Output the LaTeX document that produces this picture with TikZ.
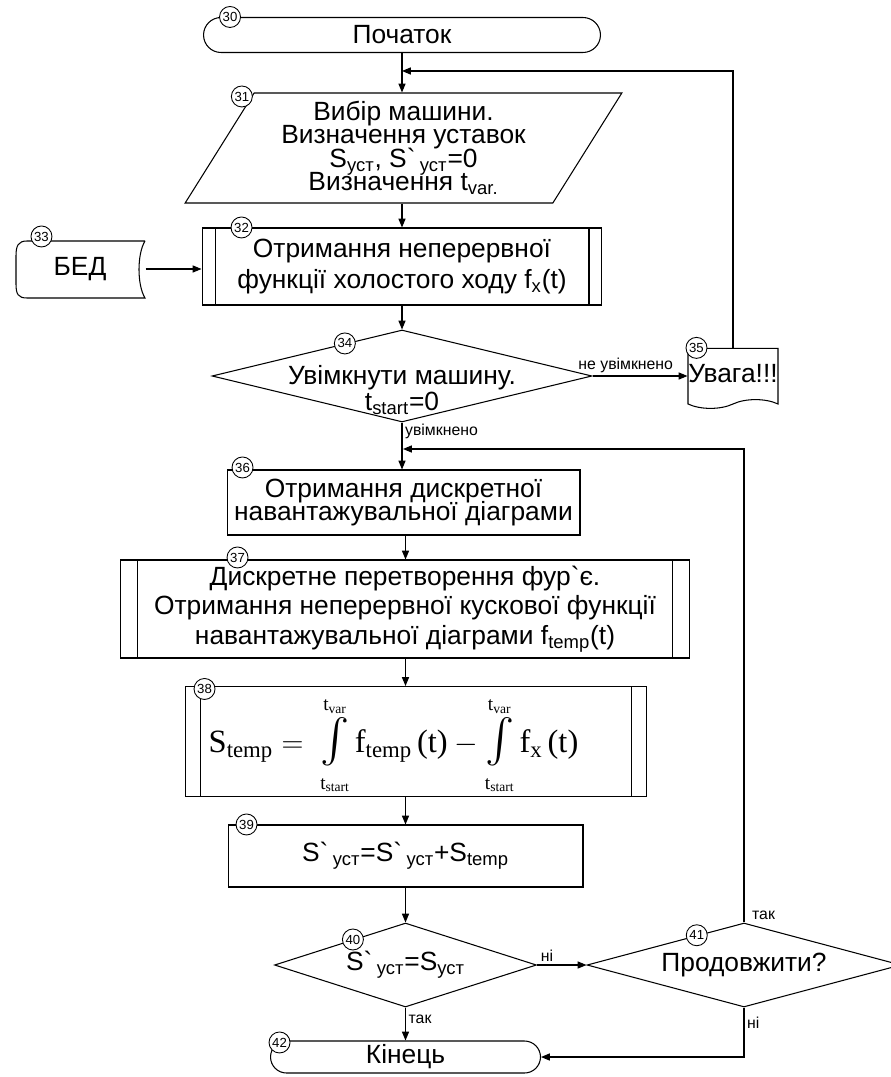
\documentclass[tikz,border=0pt]{standalone}
\usepackage{amsmath}
\usepackage{fontspec}
\setmainfont{Liberation Sans}
\newfontfamily\eqfont{Liberation Serif}
\usetikzlibrary{arrows.meta,positioning,calc,shapes.geometric,shapes.misc,shapes.symbols}
\newcommand{\tightlines}{\setlength{\lineskiplimit}{-5pt}\setlength{\lineskip}{0pt}}
\newcommand{\eqlim}[2]{\raisebox{#2}[\height][\depth]{\eqfont\fontsize{11}{11}\selectfont t\textsubscript{#1}}}
\newcommand{\eqint}{\mathop{\mbox{\fontsize{24}{24}\selectfont$\int$}}\limits}

\begin{document}
\begin{tikzpicture}[x=0.02cm,y=-0.02cm,line width=0.6pt,
  font=\fontsize{15}{16}\selectfont,
  arr/.style={-{Triangle[length=5pt,width=4pt]}},
  term/.style={draw,rounded rectangle,minimum height=0.7cm,inner sep=0pt},
  proc/.style={draw,rectangle,inner sep=0pt,align=center},
  subproc/.style={proc,path picture={
    \draw ([xshift=#1]path picture bounding box.north west) -- ([xshift=#1]path picture bounding box.south west);
    \draw ([xshift=-#1]path picture bounding box.north east) -- ([xshift=-#1]path picture bounding box.south east);}},
  cond/.style={draw,diamond,inner sep=0pt},
  num/.style={draw,circle,fill=white,line width=0.5pt,inner sep=0pt,minimum size=0.42cm,font=\fontsize{7.5}{7.5}\selectfont},
  lbl/.style={font=\fontsize{9}{9}\selectfont,inner sep=1.5pt}]
\useasboundingbox (0,0) rectangle (890,1077);

\node[term,minimum width=7.94cm] (t30) at (402,35) {Початок};
\node[draw,trapezium,trapezium left angle=59,trapezium right angle=121,trapezium stretches=true,
  minimum width=8.74cm,minimum height=2.2cm,inner sep=0pt,align=center,
  font=\fontsize{15}{13.4}\selectfont\tightlines] (p31) at (403.5,148)
  {Вибір машини.\\Визначення уставок\\S\textsubscript{уст}, S\textasciigrave\,\textsubscript{уст}=0\\Визначення t\textsubscript{var.}};
\node[subproc=0.26cm,minimum width=8cm,minimum height=1.54cm,font=\fontsize{15}{18}\selectfont] (b32) at (402,266.5)
  {Отримання неперервної\\функції холостого ходу f\textsubscript{x}(t)};
\node[minimum width=2.6cm,minimum height=1.16cm,inner sep=0pt] (bed) at (80,269) {БЕД};
\draw (145,241) -- (27,241) .. controls (18,241) and (16,246) .. (16,256) -- (16,284)
  .. controls (16,294) and (18,298) .. (27,298) -- (145,298) .. controls (137,285) and (137,254) .. (145,241);
\node[cond,minimum width=7.6cm,minimum height=1.84cm] (d34) at (402,376)
  {\makebox[0pt]{\raisebox{-12.4pt}[0pt][0pt]{\fontsize{15}{14.7}\selectfont\begin{tabular}{@{}c@{}}Увімкнути машину.\\t\textsubscript{start}=0\end{tabular}}}};
\node[draw,tape,tape bend top=none,minimum width=1.8cm,minimum height=1.2cm,inner sep=0pt] (u35) at (733,374) {Увага!!!};
\node[proc,minimum width=7.06cm,minimum height=1.3cm,font=\fontsize{15}{13}\selectfont\tightlines] (b36) at (403.5,502.5)
  {Отримання дискретної\\навантажувальної діаграми};
\node[subproc=0.34cm,minimum width=11.4cm,minimum height=1.96cm,font=\fontsize{15}{17}\selectfont] (b37) at (405,609)
  {Дискретне перетворення фур\textasciigrave є.\\Отримання неперервної кускової функції\\навантажувальної діаграми f\textsubscript{temp}(t)};
\node[subproc=0.3cm,minimum width=9.24cm,minimum height=2.2cm] (b38) at (416,741.5)
  {\eqfont\fontsize{18.5}{22}\selectfont
   \raisebox{-1.2pt}[\height][\depth]{$\text{S}_{\text{temp}} = \;\eqint_{\eqlim{start}{-2.8pt}}^{\eqlim{var}{-3.5pt}}\text{f}_{\text{temp}}\,\text{(t)}
   - \eqint_{\eqlim{start}{-2.8pt}}^{\eqlim{var}{-3.5pt}}\text{f}_{\text{x}}\,\text{(t)}$}\hspace{0.9cm}};
\node[proc,minimum width=7.1cm,minimum height=1.24cm] (b39) at (405.5,856)
  {S\textasciigrave\,\textsubscript{уст}=S\textasciigrave\,\textsubscript{уст}+S\textsubscript{temp}};
\node[cond,minimum width=5.24cm,minimum height=1.68cm] (d40) at (405.5,965)
  {\makebox[0pt]{S\textasciigrave\,\textsubscript{уст}=S\textsubscript{уст}}};
\node[cond,minimum width=6.28cm,minimum height=1.68cm] (d41) at (744,965) {\makebox[0pt]{Продовжити?}};
\node[term,minimum width=5.4cm,minimum height=0.64cm] (t42) at (405.5,1057) {Кінець};

\coordinate (j1) at (402,71);
\coordinate (j2) at (403,449);

\draw[arr] (t30.south) -- (t30.south |- p31.north);
\draw[arr] (u35.north) |- (j1);
\draw[arr] (t30.south |- p31.south) -- (b32.north);
\draw[arr] (bed.east) -- (bed.east -| b32.west);
\draw[arr] (b32.south) -- (d34.north);
\draw[arr] (d34.east) -- node[lbl,above,pos=0.35]{не увімкнено} (d34.east -| u35.west);
\draw[arr] (d34.south) -- node[lbl,right,pos=0.2]{увімкнено} (d34.south |- b36.north);
\draw[arr] (d41.north) |- node[lbl,pos=0,anchor=south west,xshift=0.1cm]{так} (j2);
\draw[arr] (b39.north |- b36.south) -- (b39.north |- b37.north);
\draw[arr] (b39.north |- b37.south) -- (b39.north |- b38.north);
\draw[arr] (b39.north |- b38.south) -- (b39.north);
\draw[arr] (b39.south) -- (d40.north);
\draw[arr] (d40.east) -- node[lbl,above,pos=0.2]{ні} (d41.west);
\draw[arr] (d40.south) -- node[lbl,right,pos=0.35]{так} (t42.north);
\draw[arr] (d41.south) |- node[lbl,right,pos=0.15]{ні} (t42.east);

\node[num] (n30) at ([xshift=-3.44cm]t30.north) {30};
\node[num] (n31) at ([xshift=-0.24cm,yshift=-0.08cm]p31.top left corner) {31};
\node[num] (n32) at ([xshift=0.8cm]b32.north west) {32};
\node[num] (n33) at ([xshift=0.54cm,yshift=0.06cm]bed.north west) {33};
\node[num] (n34) at ($(d34.west)!0.7!(d34.north)$) {34};
\node[num] (n35) at ([xshift=0.18cm]u35.north west) {35};
\node[num] (n36) at ([xshift=0.32cm,yshift=0.04cm]b36.north west) {36};
\node[num] (n37) at ([xshift=2.36cm,yshift=0.04cm]b37.north west) {37};
\node[num] (n38) at ([xshift=0.4cm,yshift=-0.06cm]b38.north west) {38};
\node[num] (n39) at ([xshift=0.38cm]b39.north west) {39};
\node[num] (n40) at ($(d40.west)!0.6!(d40.north)$) {40};
\node[num] (n41) at ($(d41.west)!0.7!(d41.north)$) {41};
\node[num] (n42) at ([xshift=-2.52cm,yshift=-0.04cm]t42.north) {42};
\end{tikzpicture}
\end{document}
